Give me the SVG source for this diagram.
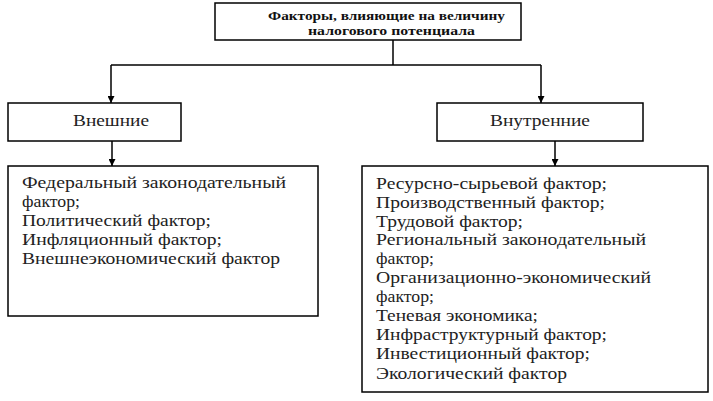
<svg xmlns="http://www.w3.org/2000/svg" width="713" height="401" viewBox="0 0 713 401">
<defs>
<style>
.box{fill:#fff;stroke:#000;stroke-width:1.5}
.t{font-size:16.5px;fill:#222}
.h{font-size:13px;font-weight:bold;fill:#111}
.ln{fill:none;stroke:#000;stroke-width:1.5}
</style>
<marker id="ah" viewBox="0 0 10 10" refX="10" refY="5" markerWidth="7" markerHeight="7" markerUnits="userSpaceOnUse" orient="auto">
<path d="M0,0 L10,5 L0,10 z" fill="#000"/>
</marker>
</defs>
<rect width="713" height="401" fill="#fff"/>
<g id="connectors">
<path class="ln" d="M393,40 V65"/>
<path class="ln" d="M111,65 H541"/>
<path class="ln" d="M111,65 V103" marker-end="url(#ah)"/>
<path class="ln" d="M541,65 V103" marker-end="url(#ah)"/>
<path class="ln" d="M112,141 V166" marker-end="url(#ah)"/>
<path class="ln" d="M555,141 V166" marker-end="url(#ah)"/>
</g>
<g font-family="Liberation Serif, DejaVu Serif, serif">
<g id="top">
<rect class="box" x="215" y="3" width="306" height="37"/>
<text class="h" x="268" y="20" textLength="237" lengthAdjust="spacingAndGlyphs">Факторы, влияющие на величину</text>
<text class="h" x="308" y="35" textLength="167" lengthAdjust="spacingAndGlyphs">налогового потенциала</text>
</g>
<g id="external">
<rect class="box" x="8" y="103" width="173" height="38"/>
<text class="t" x="73" y="126" textLength="76" lengthAdjust="spacingAndGlyphs">Внешние</text>
</g>
<g id="internal">
<rect class="box" x="437" y="103" width="206" height="38"/>
<text class="t" x="490" y="126" textLength="100" lengthAdjust="spacingAndGlyphs">Внутренние</text>
</g>
<g id="external-list">
<rect class="box" x="8" y="166" width="310" height="150"/>
<text class="t" x="22" y="188" textLength="264" lengthAdjust="spacingAndGlyphs">Федеральный законодательный</text>
<text class="t" x="22" y="207" textLength="58" lengthAdjust="spacingAndGlyphs">фактор;</text>
<text class="t" x="22" y="226" textLength="189" lengthAdjust="spacingAndGlyphs">Политический фактор;</text>
<text class="t" x="22" y="245" textLength="200" lengthAdjust="spacingAndGlyphs">Инфляционный фактор;</text>
<text class="t" x="22" y="264" textLength="258" lengthAdjust="spacingAndGlyphs">Внешнеэкономический фактор</text>
</g>
<g id="internal-list">
<rect class="box" x="362" y="166" width="346" height="226"/>
<text class="t" x="376" y="189" textLength="231" lengthAdjust="spacingAndGlyphs">Ресурсно-сырьевой фактор;</text>
<text class="t" x="376" y="208" textLength="229" lengthAdjust="spacingAndGlyphs">Производственный фактор;</text>
<text class="t" x="376" y="227" textLength="147" lengthAdjust="spacingAndGlyphs">Трудовой фактор;</text>
<text class="t" x="376" y="245" textLength="270" lengthAdjust="spacingAndGlyphs">Региональный законодательный</text>
<text class="t" x="376" y="264" textLength="58" lengthAdjust="spacingAndGlyphs">фактор;</text>
<text class="t" x="376" y="283" textLength="275" lengthAdjust="spacingAndGlyphs">Организационно-экономический</text>
<text class="t" x="376" y="302" textLength="58" lengthAdjust="spacingAndGlyphs">фактор;</text>
<text class="t" x="376" y="321" textLength="162" lengthAdjust="spacingAndGlyphs">Теневая экономика;</text>
<text class="t" x="376" y="340" textLength="231" lengthAdjust="spacingAndGlyphs">Инфраструктурный фактор;</text>
<text class="t" x="376" y="359" textLength="214" lengthAdjust="spacingAndGlyphs">Инвестиционный фактор;</text>
<text class="t" x="376" y="379" textLength="191" lengthAdjust="spacingAndGlyphs">Экологический фактор</text>
</g>
</g>
</svg>
